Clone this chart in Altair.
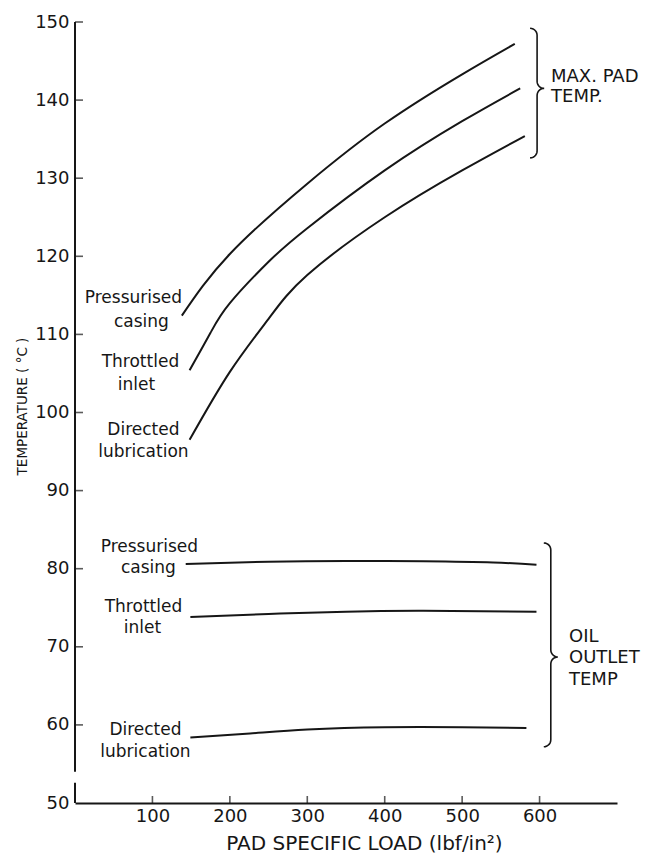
import altair as alt
import pandas as pd
import numpy as np

# ---------------- data ----------------
W, H = 542, 781
X_DOMAIN = [0, 700]
Y_DOMAIN = [50, 150]

# Max. pad temperature curves
max_press_x = [138, 200, 300, 400, 500, 568]
max_press_y = [112.4, 120.3, 129.3, 137.0, 143.3, 147.2]
max_throt_x = [148, 175, 200, 250, 300, 400, 500, 575]
max_throt_y = [105.4, 110.2, 114.0, 119.3, 123.6, 131.0, 137.3, 141.5]
max_direct_x = [148, 200, 250, 300, 400, 500, 581]
max_direct_y = [96.5, 105.2, 112.0, 117.6, 125.0, 131.0, 135.4]

# Oil outlet temperature curves
oil_press_x = [143, 250, 350, 450, 540, 596]
oil_press_y = [80.6, 80.9, 81.0, 80.95, 80.8, 80.5]
oil_throt_x = [149, 250, 350, 450, 596]
oil_throt_y = [73.8, 74.2, 74.5, 74.6, 74.5]
oil_direct_x = [149, 226, 300, 400, 500, 583]
oil_direct_y = [58.4, 58.9, 59.4, 59.7, 59.7, 59.6]

# curve labels (text, x, y in data units)
label_text = ["Pressurised", "casing", "Throttled", "inlet", "Directed", "lubrication",
              "Pressurised", "casing", "Throttled", "inlet", "Directed", "lubrication"]
label_x = [75.5, 85.8, 84.5, 79.4, 88.4, 88.4,
           96.1, 94.8, 88.4, 87.1, 91.0, 91.0]
label_y = [114.66, 111.59, 106.47, 103.52, 97.76, 94.94,
           82.78, 80.09, 75.10, 72.41, 59.35, 56.53]

# group labels
group_text = ["MAX. PAD", "TEMP.", "OIL", "OUTLET", "TEMP"]
group_x = [614.8, 614.8, 638, 638, 638]
group_y = [142.96, 140.4, 71.25, 68.56, 65.75]

# braces: x, top, mid, bottom
brace_x = [596.8, 614.5]
brace_top = [149.2, 83.3]
brace_mid = [141.5, 68.7]
brace_bot = [132.6, 57.2]

y_labels = [50, 60, 70, 80, 90, 100, 110, 120, 130, 140, 150]
y_ticks = [60, 70, 80, 90, 100, 110, 120, 130, 140, 150]
x_ticks = [100, 200, 300, 400, 500, 600]

# ---------------- build tables ----------------
rows = []
for key, xs_, ys_ in [("mp", max_press_x, max_press_y), ("mt", max_throt_x, max_throt_y),
                      ("md", max_direct_x, max_direct_y), ("op", oil_press_x, oil_press_y),
                      ("ot", oil_throt_x, oil_throt_y), ("od", oil_direct_x, oil_direct_y)]:
    for i, (a, b) in enumerate(zip(xs_, ys_)):
        rows.append({"key": key, "x": a, "y": b, "o": i})
curves = pd.DataFrame(rows)

labels = pd.DataFrame({"t": label_text, "x": label_x, "y": label_y})
groups = pd.DataFrame({"t": group_text, "x": group_x, "y": group_y})

kx = W / (X_DOMAIN[1] - X_DOMAIN[0])
ky = H / (Y_DOMAIN[1] - Y_DOMAIN[0])


def brace_points(xv, yt, ym, yb, r=7.0, n=8):
    X = xv * kx
    Yt = (Y_DOMAIN[1] - yt) * ky
    Ym = (Y_DOMAIN[1] - ym) * ky
    Yb = (Y_DOMAIN[1] - yb) * ky
    pts = []

    def arc(cx, cy, a0, a1):
        for a in np.linspace(np.radians(a0), np.radians(a1), n):
            pts.append((cx + r * np.cos(a), cy + r * np.sin(a)))

    arc(X - r, Yt + r, -90, 0)
    arc(X + r, Ym - r, 180, 90)
    arc(X + r, Ym + r, -90, -180)
    arc(X - r, Yb - r, 0, 90)
    return [(px / kx, Y_DOMAIN[1] - py / ky) for px, py in pts]


brows = []
for bi in range(len(brace_x)):
    for j, (a, b) in enumerate(brace_points(brace_x[bi], brace_top[bi], brace_mid[bi], brace_bot[bi])):
        brows.append({"b": bi, "x": a, "y": b, "o": j})
braces = pd.DataFrame(brows)

yt_df = pd.DataFrame({"x": [0] * len(y_ticks), "y": y_ticks})
xt_df = pd.DataFrame({"x": x_ticks, "y": [50] * len(x_ticks)})
yaxis_df = pd.DataFrame({"x": [0, 0], "y": [150, 52.6], "y2": [54.0, 50]})

# ---------------- chart ----------------
INK = "#161616"
FONT = "DejaVu Sans"
xs = alt.Scale(domain=X_DOMAIN, nice=False, zero=False)
ys = alt.Scale(domain=Y_DOMAIN, nice=False, zero=False)

x_axis = alt.Axis(
    values=x_ticks, ticks=False, domain=True, domainColor=INK, domainWidth=2,
    labelFont=FONT, labelFontSize=18, labelColor=INK, labelPadding=4, grid=False,
    title="PAD SPECIFIC LOAD (lbf/in²)", titleFont=FONT, titleFontSize=20,
    titleFontWeight="normal", titleColor=INK, titleX=289, titleY=40,
    titleAlign="center", titleBaseline="middle")
y_axis = alt.Axis(
    values=y_labels, ticks=False, domain=False,
    labelFont=FONT, labelFontSize=18, labelColor=INK, labelPadding=6, grid=False,
    title="TEMPERATURE   ( °C )", titleFont=FONT, titleFontSize=13.5,
    titleFontWeight="normal", titleColor=INK, titleX=-53, titleY=384,
    titleAngle=270, titleAlign="center", titleBaseline="middle")

X = alt.X("x:Q", scale=xs, axis=x_axis)
Y = alt.Y("y:Q", scale=ys, axis=y_axis)

base_curves = alt.Chart(curves).mark_line(
    interpolate="natural", color=INK, strokeWidth=2
).encode(x=X, y=Y, detail="key:N", order="o:Q")

yaxis_line = alt.Chart(yaxis_df).mark_rule(color=INK, strokeWidth=2).encode(
    x=X, y=Y, y2="y2:Q",
)

ytick_marks = alt.Chart(yt_df).mark_tick(
    color=INK, thickness=1.6, size=8, orient="horizontal", xOffset=4
).encode(x=X, y=Y)

xtick_marks = alt.Chart(xt_df).mark_tick(
    color=INK, thickness=1.6, size=7, orient="vertical", yOffset=-3.5
).encode(x=X, y=Y)

label_marks = alt.Chart(labels).mark_text(
    font=FONT, fontSize=17, color=INK, align="center", baseline="middle"
).encode(x=X, y=Y, text="t:N")

group_marks = alt.Chart(groups).mark_text(
    font=FONT, fontSize=18, color=INK, align="left", baseline="middle"
).encode(x=X, y=Y, text="t:N")

brace_marks = alt.Chart(braces).mark_line(color=INK, strokeWidth=1.6).encode(
    x=X, y=Y, detail="b:N", order="o:Q",
)

chart = alt.layer(
    base_curves, yaxis_line, ytick_marks, xtick_marks, label_marks, group_marks, brace_marks
).properties(
    width=W, height=H,
    autosize=alt.AutoSizeParams(type="none"),
    padding={"left": 75, "top": 22, "right": 47, "bottom": 51},
    background="white",
).configure_view(stroke=None)

chart.save("out.html", embed_options={"renderer": "svg", "actions": False})
